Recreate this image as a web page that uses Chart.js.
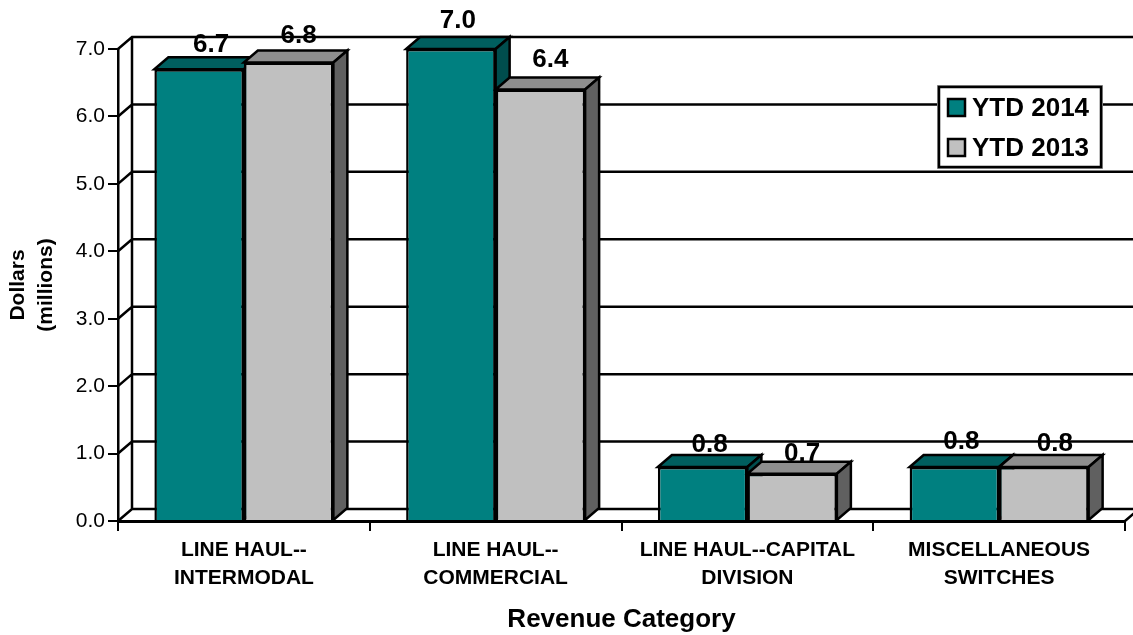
<!DOCTYPE html>
<html>
<head>
<meta charset="utf-8">
<style>
   html, body { margin: 0; padding: 0; background: #ffffff; }
   #wrap { position: relative; width: 1133px; height: 635px; }
</style>
<script src="https://cdn.jsdelivr.net/npm/chart.js@4"></script>
</head>
<body>
<div id="wrap"><canvas id="chart"></canvas></div>
<script>
const categories = [
   ["LINE HAUL--", "INTERMODAL"],
   ["LINE HAUL--", "COMMERCIAL"],
   ["LINE HAUL--CAPITAL", "DIVISION"],
   ["MISCELLANEOUS", "SWITCHES"]
];
const ytd2014 = [6.7, 7.0, 0.8, 0.8];
const ytd2013 = [6.8, 6.4, 0.7, 0.8];
const tickStep = 1;
const tickMax = 7;

const FONT = "'Liberation Sans', Arial, sans-serif";
const DEPTH_X = 14;
const DEPTH_Y = 12;
const LINE = 2.5;
const TEAL = ["#008080", "#005f5f", "#004d4d"];
const GREY = ["#c0c0c0", "#8e8e8e", "#606060"];
// hand tuned value label offsets from the top of each bar, one row per series
const labelShift = [[12, 7, 7, 7], [10, 10, 10, 11]];
const labelLift = [[24, 28, 22, 25], [27, 30, 20, 23]];

function poly(ctx, points, fill) {
   ctx.beginPath();
   ctx.moveTo(points[0][0], points[0][1]);
   for (var i = 1; i < points.length; i++) {
      ctx.lineTo(points[i][0], points[i][1]);
   }
   ctx.closePath();
   ctx.fillStyle = fill;
   ctx.fill();
   ctx.stroke();
}

// back wall, side wall and floor, which chart.js has no option for
const wallsPlugin = {
   id: "walls",
   beforeDatasetsDraw: function (chart) {
      const ctx = chart.ctx;
      const x = chart.scales.x;
      const y = chart.scales.y;
      ctx.save();
      ctx.strokeStyle = "#000000";
      ctx.lineWidth = LINE;
      ctx.beginPath();
      ctx.moveTo(x.left + DEPTH_X, y.bottom - DEPTH_Y);
      ctx.lineTo(x.left + DEPTH_X, y.top - DEPTH_Y);
      for (var i = 0; i < y.ticks.length; i++) {
         const py = y.getPixelForValue(y.ticks[i].value);
         ctx.moveTo(x.left, py);
         ctx.lineTo(x.left + DEPTH_X, py - DEPTH_Y);
         ctx.lineTo(x.right + DEPTH_X, py - DEPTH_Y);
      }
      ctx.moveTo(x.right, y.bottom);
      ctx.lineTo(x.right + DEPTH_X, y.bottom - DEPTH_Y);
      ctx.stroke();
      ctx.restore();
   }
};

// top and side faces of each bar, the front face is the real chart.js bar
const sidesPlugin = {
   id: "sides",
   beforeDatasetsDraw: function (chart) {
      const ctx = chart.ctx;
      ctx.save();
      ctx.strokeStyle = "#000000";
      ctx.lineWidth = LINE;
      ctx.lineJoin = "miter";
      chart.data.datasets.forEach(function (ds, d) {
         const colors = d === 0 ? TEAL : GREY;
         chart.getDatasetMeta(d).data.forEach(function (bar) {
            const l = bar.x - bar.width / 2;
            const r = bar.x + bar.width / 2;
            poly(ctx, [[l, bar.y], [l + DEPTH_X, bar.y - DEPTH_Y], [r + DEPTH_X, bar.y - DEPTH_Y], [r, bar.y]], colors[1]);
            poly(ctx, [[r, bar.y], [r + DEPTH_X, bar.y - DEPTH_Y], [r + DEPTH_X, bar.base - DEPTH_Y], [r, bar.base]], colors[2]);
         });
      });
      ctx.restore();
   }
};

const labelsPlugin = {
   id: "valueLabels",
   afterDatasetsDraw: function (chart) {
      const ctx = chart.ctx;
      ctx.save();
      ctx.fillStyle = "#000000";
      ctx.font = "bold 26px " + FONT;
      ctx.textAlign = "center";
      ctx.textBaseline = "middle";
      chart.data.datasets.forEach(function (ds, d) {
         chart.getDatasetMeta(d).data.forEach(function (bar, i) {
            ctx.fillText(ds.data[i].toFixed(1), bar.x + labelShift[d][i], bar.y - labelLift[d][i]);
         });
      });
      ctx.restore();
   }
};

const legendPlugin = {
   id: "boxLegend",
   afterDatasetsDraw: function (chart) {
      const ctx = chart.ctx;
      const left = 939;
      const top = 87;
      ctx.save();
      ctx.fillStyle = "#ffffff";
      ctx.strokeStyle = "#9a9a9a";
      ctx.lineWidth = 1;
      ctx.fillRect(left - 2, top - 2, 166, 84);
      ctx.strokeRect(left - 1.5, top - 1.5, 165, 83);
      ctx.strokeStyle = "#000000";
      ctx.lineWidth = LINE;
      ctx.strokeRect(left, top, 162, 80);
      ctx.font = "bold 26px " + FONT;
      ctx.textAlign = "left";
      ctx.textBaseline = "middle";
      chart.data.datasets.forEach(function (ds, d) {
         const rowY = top + 21 + d * 40;
         ctx.fillStyle = ds.backgroundColor;
         ctx.fillRect(948, rowY - 9, 17, 17);
         ctx.strokeRect(948, rowY - 9, 17, 17);
         ctx.fillStyle = "#000000";
         ctx.fillText(ds.label, 972, rowY + 1);
      });
      ctx.restore();
   }
};

const config = {
   type: "bar",
   data: {
      labels: categories,
      datasets: [{
         label: "YTD 2014",
         data: ytd2014,
         backgroundColor: TEAL[0],
         borderColor: "#000000",
         borderWidth: LINE
      }, {
         label: "YTD 2013",
         data: ytd2013,
         backgroundColor: GREY[0],
         borderColor: "#000000",
         borderWidth: LINE
      }]
   },
   options: {
      responsive: false,
      animation: false,
      layout: {
         padding: { left: 0, top: 49, right: 8, bottom: 0 }
      },
      plugins: {
         legend: { display: false },
         tooltip: { enabled: false }
      },
      datasets: {
         bar: {
            categoryPercentage: 0.711,
            barPercentage: 1
         }
      },
      scales: {
         x: {
            afterFit: function (scale) { scale.height = 114; },
            border: { color: "#000000", width: 3 },
            grid: {
               drawOnChartArea: false,
               color: "#000000",
               lineWidth: 2,
               tickLength: 10
            },
            ticks: {
               maxRotation: 0,
               autoSkip: false,
               padding: 5,
               color: "#000000",
               font: { family: FONT, size: 21, weight: "bold", lineHeight: 1.35 }
            },
            title: {
               display: true,
               text: "Revenue Category",
               color: "#000000",
               font: { family: FONT, size: 26, weight: "bold" },
               padding: { top: 4, bottom: 0 }
            }
         },
         y: {
            min: 0,
            max: tickMax,
            afterFit: function (scale) { scale.width = 118; },
            border: { color: "#000000", width: LINE },
            grid: {
               drawOnChartArea: false,
               color: "#000000",
               lineWidth: 2,
               tickLength: 10
            },
            ticks: {
               stepSize: tickStep,
               padding: 3,
               color: "#000000",
               font: { family: FONT, size: 21 },
               callback: function (value) { return value.toFixed(1); }
            },
            title: {
               display: true,
               text: ["Dollars", "(millions)"],
               color: "#000000",
               font: { family: FONT, size: 21, weight: "bold", lineHeight: 1.35 },
               padding: { top: 4, bottom: 0 }
            }
         }
      }
   },
   plugins: [wallsPlugin, sidesPlugin, labelsPlugin, legendPlugin]
};

const canvas = document.getElementById("chart");
canvas.width = 1133;
canvas.height = 635;
const myChart = new Chart(canvas, config);
</script>
</body>
</html>
